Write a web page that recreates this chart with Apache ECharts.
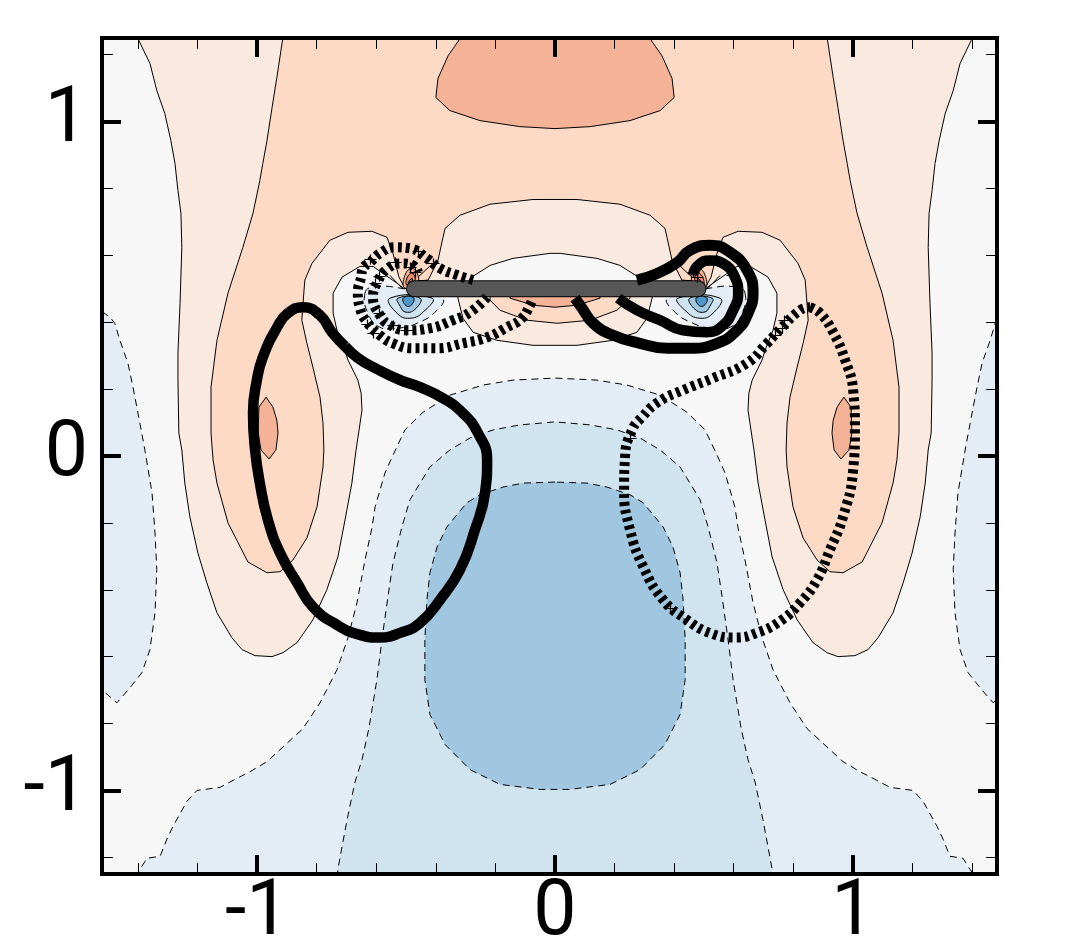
<!DOCTYPE html>
<html>
<head>
<meta charset="utf-8">
<style>html,body{margin:0;padding:0;background:#fff}#c{width:1071px;height:952px}</style>
<script src="https://cdn.jsdelivr.net/npm/echarts@6/dist/echarts.min.js"></script>
</head>
<body>
<div id="c"></div>
<script>
// Axis ticks (data units)
const xMajor = [-1, 0, 1];
const yMajor = [-1, 0, 1];
const xMinor = [-1.4, -1.2, -0.8, -0.6, -0.4, -0.2, 0.2, 0.4, 0.6, 0.8, 1.2, 1.4];
const yMinor = [-1.2, -0.8, -0.6, -0.4, -0.2, 0.2, 0.4, 0.6, 0.8, 1.2];

// Contour levels (left half of each symmetric contour, in data units)
const peachHalf = [[-0.91,1.272],[-0.934,1.132],[-0.95,1.042],[-0.967,0.944],[-0.981,0.875],[-0.991,0.824],[-1.014,0.726],[-1.048,0.624],[-1.098,0.487],[-1.135,0.346],[-1.155,0.206],[-1.155,0.069],[-1.148,-0.012],[-1.135,-0.081],[-1.098,-0.2],[-1.031,-0.317],[-0.967,-0.349],[-0.923,-0.346],[-0.88,-0.311],[-0.833,-0.245],[-0.799,-0.152],[-0.779,-0.033],[-0.776,0.018],[-0.779,0.099],[-0.789,0.176],[-0.813,0.266],[-0.833,0.337],[-0.85,0.406],[-0.846,0.457],[-0.84,0.526],[-0.816,0.576],[-0.756,0.645],[-0.695,0.669],[-0.615,0.672],[-0.564,0.654],[-0.544,0.606],[-0.524,0.535],[-0.504,0.502],[-0.47,0.523],[-0.426,0.526],[-0.393,0.585],[-0.376,0.654],[-0.369,0.681],[-0.319,0.72],[-0.218,0.753],[-0.074,0.767],[0,0.767]];
const paleHalf = [[-1.404,1.287],[-1.397,1.242],[-1.36,1.174],[-1.337,1.093],[-1.31,1.024],[-1.29,0.944],[-1.276,0.875],[-1.266,0.794],[-1.256,0.726],[-1.253,0.624],[-1.259,0.457],[-1.266,0.308],[-1.266,0.227],[-1.263,0.069],[-1.253,0.018],[-1.243,-0.081],[-1.226,-0.182],[-1.199,-0.29],[-1.169,-0.379],[-1.135,-0.469],[-1.085,-0.543],[-1.051,-0.579],[-1.007,-0.597],[-0.95,-0.6],[-0.913,-0.588],[-0.866,-0.558],[-0.813,-0.49],[-0.766,-0.4],[-0.729,-0.302],[-0.705,-0.191],[-0.682,-0.081],[-0.668,0.018],[-0.648,0.137],[-0.651,0.188],[-0.662,0.227],[-0.695,0.287],[-0.709,0.325],[-0.732,0.376],[-0.745,0.427],[-0.745,0.487],[-0.715,0.535],[-0.655,0.567],[-0.611,0.567],[-0.578,0.546],[-0.531,0.517],[-0.504,0.499],[-0.295,0.502],[-0.285,0.532],[-0.218,0.57],[-0.141,0.591],[-0.017,0.606],[0,0.606]];
const lensPaleHalf = [[0,0.496],[-0.326,0.496],[-0.326,0.472],[-0.309,0.412],[-0.275,0.37],[-0.195,0.346],[-0.074,0.331],[0,0.331]];
const lensPeach = [[-0.218,0.496],[-0.218,0.466],[-0.185,0.436],[-0.094,0.406],[0.007,0.397],[0.118,0.406],[0.208,0.436],[0.252,0.472],[0.252,0.496]];
const lensOrangeHalf = [[0,0.496],[-0.151,0.496],[-0.151,0.472],[-0.074,0.451],[0,0.445]];
const topPatchHalf = [[-0.319,1.287],[-0.319,1.248],[-0.359,1.197],[-0.393,1.129],[-0.4,1.072],[-0.353,1.033],[-0.252,1.003],[-0.118,0.985],[0,0.979]];
const sidePatch = [[-0.97,0.176],[-0.994,0.146],[-0.997,0.069],[-0.987,0.018],[-0.96,-0.009],[-0.937,0.018],[-0.93,0.069],[-0.934,0.107],[-0.947,0.146]];
const sideBlue = [[-1.561,0.43],[-1.518,0.43],[-1.494,0.415],[-1.478,0.397],[-1.461,0.346],[-1.434,0.278],[-1.417,0.206],[-1.394,0.099],[-1.377,0.018],[-1.353,-0.11],[-1.343,-0.23],[-1.337,-0.34],[-1.343,-0.469],[-1.36,-0.579],[-1.387,-0.648],[-1.427,-0.693],[-1.471,-0.738],[-1.514,-0.705],[-1.561,-0.705]];
const blueOuterHalf = [[-1.41,-1.296],[-1.4,-1.245],[-1.37,-1.203],[-1.326,-1.197],[-1.303,-1.146],[-1.283,-1.108],[-1.236,-1.033],[-1.202,-1],[-1.125,-0.991],[-1.081,-0.97],[-1.024,-0.944],[-0.967,-0.914],[-0.846,-0.815],[-0.789,-0.738],[-0.732,-0.639],[-0.695,-0.543],[-0.665,-0.439],[-0.638,-0.311],[-0.614,-0.212],[-0.604,-0.152],[-0.571,-0.051],[-0.547,-0.003],[-0.504,0.078],[-0.443,0.131],[-0.353,0.182],[-0.242,0.212],[-0.141,0.227],[0,0.233]];
const blueMidHalf = [[-0.735,-1.296],[-0.729,-1.236],[-0.715,-1.168],[-0.698,-1.087],[-0.672,-0.976],[-0.648,-0.908],[-0.625,-0.815],[-0.598,-0.669],[-0.578,-0.529],[-0.561,-0.421],[-0.544,-0.32],[-0.514,-0.212],[-0.487,-0.131],[-0.453,-0.081],[-0.42,-0.033],[-0.353,0.018],[-0.285,0.054],[-0.208,0.078],[-0.118,0.093],[0,0.102]];
const blueDarkHalf = [[0,-0.078],[-0.107,-0.081],[-0.175,-0.093],[-0.252,-0.116],[-0.296,-0.14],[-0.363,-0.212],[-0.396,-0.272],[-0.42,-0.349],[-0.43,-0.43],[-0.437,-0.549],[-0.437,-0.669],[-0.42,-0.773],[-0.369,-0.863],[-0.285,-0.938],[-0.185,-0.982],[-0.05,-0.997],[0,-0.997]];
const tipBlue1 = [[-0.638,0.487],[-0.611,0.505],[-0.52,0.502],[-0.379,0.472],[-0.396,0.436],[-0.463,0.397],[-0.531,0.382],[-0.588,0.385],[-0.628,0.427]];
const tipBlue2 = [[-0.554,0.472],[-0.413,0.472],[-0.436,0.436],[-0.487,0.412],[-0.534,0.43]];
const tipBlue3 = [[-0.527,0.472],[-0.453,0.472],[-0.466,0.442],[-0.5,0.43],[-0.52,0.448]];
const tipBlue4 = [[-0.51,0.472],[-0.477,0.475],[-0.477,0.457],[-0.497,0.448]];
const tipRed1 = [[-0.504,0.54],[-0.48,0.561],[-0.46,0.54],[-0.463,0.52],[-0.504,0.502]];
const tipRed2 = [[-0.497,0.532],[-0.48,0.546],[-0.47,0.526],[-0.497,0.511]];
const tipRed3 = [[-0.494,0.52],[-0.48,0.532],[-0.477,0.52]];
const tipSpokes = [[[-0.514,0.502],[-0.554,0.54]],[[-0.487,0.556],[-0.48,0.579]],[[-0.46,0.535],[-0.41,0.576]]];

// Thick vortex curves
const solidLoop = [[-0.705,0.328],[-0.749,0.37],[-0.789,0.421],[-0.846,0.445],[-0.897,0.427],[-0.933,0.385],[-0.981,0.296],[-1.001,0.227],[-1.014,0.128],[-1.007,0.018],[-0.991,-0.081],[-0.964,-0.191],[-0.923,-0.29],[-0.866,-0.379],[-0.813,-0.451],[-0.732,-0.505],[-0.655,-0.535],[-0.588,-0.543],[-0.52,-0.529],[-0.453,-0.499],[-0.386,-0.43],[-0.319,-0.34],[-0.269,-0.221],[-0.235,-0.11],[-0.228,-0.012],[-0.259,0.069],[-0.309,0.128],[-0.376,0.173],[-0.453,0.206],[-0.52,0.227],[-0.604,0.263],[-0.662,0.293],[-0.705,0.328]];
const dashedLoop = [[0.856,0.445],[0.89,0.427],[0.934,0.37],[0.974,0.287],[1.001,0.197],[1.007,0.078],[1.001,-0.042],[0.967,-0.182],[0.923,-0.281],[0.88,-0.37],[0.823,-0.439],[0.762,-0.49],[0.678,-0.529],[0.604,-0.543],[0.52,-0.529],[0.443,-0.49],[0.363,-0.43],[0.296,-0.331],[0.252,-0.221],[0.232,-0.102],[0.235,-0.003],[0.259,0.078],[0.292,0.116],[0.346,0.161],[0.43,0.197],[0.531,0.233],[0.645,0.278],[0.712,0.337],[0.762,0.385],[0.823,0.436],[0.856,0.445]];
const dashedOuter = [[-0.275,0.526],[-0.329,0.541],[-0.386,0.561],[-0.43,0.591],[-0.487,0.621],[-0.537,0.624],[-0.588,0.606],[-0.621,0.579],[-0.645,0.561],[-0.651,0.535],[-0.662,0.49],[-0.655,0.442],[-0.631,0.4],[-0.588,0.361],[-0.544,0.337],[-0.477,0.322],[-0.396,0.322],[-0.309,0.337],[-0.228,0.355],[-0.161,0.385],[-0.111,0.412],[-0.084,0.451],[-0.074,0.472]];
const dashedInner = [[-0.228,0.475],[-0.285,0.43],[-0.343,0.406],[-0.42,0.382],[-0.497,0.376],[-0.554,0.391],[-0.588,0.421],[-0.611,0.475],[-0.598,0.517],[-0.561,0.561],[-0.514,0.576],[-0.477,0.57],[-0.46,0.549]];
const solidOuter = [[0.275,0.526],[0.343,0.546],[0.41,0.579],[0.453,0.615],[0.52,0.63],[0.588,0.609],[0.645,0.555],[0.665,0.487],[0.648,0.427],[0.611,0.376],[0.544,0.337],[0.453,0.322],[0.376,0.322],[0.285,0.337],[0.195,0.361],[0.128,0.397],[0.091,0.442],[0.067,0.472]];
const solidInner = [[0.212,0.472],[0.275,0.436],[0.353,0.406],[0.43,0.376],[0.51,0.37],[0.564,0.391],[0.598,0.436],[0.615,0.487],[0.604,0.535],[0.564,0.576],[0.52,0.585],[0.48,0.57],[0.463,0.541]];
const plate = [[-0.472,0.5],[0.48,0.5]];
const plusMarks = [[-0.621,0.588],[-0.591,0.538],[-0.605,0.517],[-0.537,0.58],[-0.591,0.427],[-0.631,0.394],[-0.611,0.367],[-0.544,0.391],[-0.5,0.376],[-0.705,0.328],[-0.749,0.37],[-0.789,0.415],[-0.41,0.576],[-0.46,0.612],[-0.47,0.549],[-0.487,0.564],[0.463,0.549],[0.477,0.534],[0.628,0.579],[0.594,0.54],[0.77,0.406],[0.762,0.382],[0.739,0.361],[0.252,0.054],[0.386,-0.454]];

const C = {pale:'#f9e9df', peach:'#fddac5', orange:'#f4b296', b1:'#e4edf5', b2:'#d0e4f0', b3:'#a0c7df', b4:'#4f97c9', r2:'#e98f72', r3:'#d6604d'};
const mirrorX = pts => pts.map(p => [-p[0], p[1]]);
const full = half => half.concat(mirrorX(half).reverse());

function poly(pts, fill, dashed, smooth) {
  return {
    type:'custom', silent:true, clip:true, coordinateSystem:'cartesian2d', z:2,
    data: pts, encode:{x:0, y:1},
    renderItem:(params, api) => params.dataIndex !== 0 ? null : {
      type:'polygon',
      shape:{points: pts.map(p => api.coord(p)), smooth: smooth || 0},
      style:{fill, stroke:'#000', lineWidth:1, lineDash: dashed ? [7,5] : null}
    }
  };
}
function line(pts, width, color, dash, cap, smooth, z) {
  return {
    type:'line', silent:true, data:pts, showSymbol:false, smooth: smooth === undefined ? 0.5 : smooth, z: z || 5,
    lineStyle:{width, color, type: dash || 'solid', cap: cap || 'butt', join:'round'}, clip:true
  };
}

const series = [
  poly(sideBlue, C.b1, true), poly(mirrorX(sideBlue), C.b1, true),
  poly(full(paleHalf), C.pale, false),
  poly(full(peachHalf), C.peach, false),
  poly(full(topPatchHalf), C.orange, false),
  poly(sidePatch, C.orange, false), poly(mirrorX(sidePatch), C.orange, false),
  poly(full(lensPaleHalf), C.pale, false),
  poly(lensPeach, C.peach, false),
  poly(full(lensOrangeHalf), C.orange, false),
  poly(full(blueOuterHalf), C.b1, true),
  poly(full(blueMidHalf), C.b2, true),
  poly(full(blueDarkHalf), C.b3, true)
];
[tipBlue1, mirrorX(tipBlue1)].forEach(p => series.push(poly(p, C.b1, true, 0.5)));
[tipBlue2, mirrorX(tipBlue2)].forEach(p => series.push(poly(p, C.b2, false, 0.5)));
[tipBlue3, mirrorX(tipBlue3)].forEach(p => series.push(poly(p, C.b3, false, 0.5)));
[tipBlue4, mirrorX(tipBlue4)].forEach(p => series.push(poly(p, C.b4, false, 0.5)));
[tipRed1, mirrorX(tipRed1)].forEach(p => series.push(poly(p, C.orange, false, 0.5)));
[tipRed2, mirrorX(tipRed2)].forEach(p => series.push(poly(p, C.r2, false, 0.5)));
[tipRed3, mirrorX(tipRed3)].forEach(p => series.push(poly(p, C.r3, false)));
tipSpokes.forEach(s => { series.push(line(s, 1, '#000', 'solid', 'butt', 0, 3)); series.push(line(mirrorX(s), 1, '#000', 'solid', 'butt', 0, 3)); });

series.push(line(plate, 17, '#000', 'solid', 'round', 0, 4));
series.push(line(plate, 15, '#575757', 'solid', 'round', 0, 4));

series.push(line(solidLoop, 10.5, '#000'));
series.push(line(dashedLoop, 10, '#000', [4,4]));
series.push(line(dashedOuter, 10, '#000', [4,4]));
series.push(line(dashedInner, 10, '#000', [4,4]));
series.push(line(solidOuter, 11, '#000'));
series.push(line(solidInner, 10.5, '#000'));
series.push({
  type:'custom', silent:true, clip:true, coordinateSystem:'cartesian2d', z:6,
  data: plusMarks, encode:{x:0, y:1},
  renderItem:(params, api) => {
    const c = api.coord([api.value(0), api.value(1)]);
    const cx = Math.round(c[0]) + 0.5, cy = Math.round(c[1]) + 0.5;
    return {type:'path', shape:{
      pathData:'M' + (cx-6) + ' ' + cy + 'L' + (cx+6) + ' ' + cy + 'M' + cx + ' ' + (cy-5) + 'L' + cx + ' ' + (cy+5),
      x:cx-6, y:cy-5, width:12, height:10
    }, style:{fill:null, stroke:'#000', lineWidth:1.2}};
  }
});

const axisLine = {show:true, onZero:false, lineStyle:{color:'#000', width:4, cap:'square'}};
function xAxis(position, ticks, len, w, labels) {
  return {
    type:'value', min:-1.521, max:1.484, position, z:10, silent:true,
    splitLine:{show:false}, axisLine,
    axisTick:{show:true, inside:true, customValues:ticks, length:len, lineStyle:{color:'#000', width:w}},
    axisLabel: labels ? {show:true, customValues:ticks, color:'#000', fontFamily:'Roboto', fontSize:77, margin:2, hideOverlap:false, formatter:v => String(v)} : {show:false}
  };
}
function yAxis(position, ticks, len, w, labels) {
  return {
    type:'value', min:-1.25, max:1.25, position, z:10, silent:true,
    splitLine:{show:false}, axisLine,
    axisTick:{show:true, inside:true, customValues:ticks, length:len, lineStyle:{color:'#000', width:w}},
    axisLabel: labels ? {show:true, customValues:ticks, color:'#000', fontFamily:'Roboto', fontSize:77, margin:14, hideOverlap:false, formatter:v => String(v)} : {show:false}
  };
}

const chart = echarts.init(document.getElementById('c'), null, {renderer:'canvas'});
chart.setOption({
  animation:false,
  backgroundColor:'#fff',
  grid:{left:102, right:74, top:38, bottom:78, containLabel:false, outerBoundsMode:'none', show:true, backgroundColor:'#f7f7f7', borderWidth:0},
  xAxis:[xAxis('bottom', xMajor, 19, 4, true), xAxis('top', xMajor, 19, 4), xAxis('bottom', xMinor, 11, 1), xAxis('top', xMinor, 11, 1)],
  yAxis:[yAxis('left', yMajor, 19, 4, true), yAxis('right', yMajor, 19, 4), yAxis('left', yMinor, 11, 1), yAxis('right', yMinor, 11, 1)],
  series
});
</script>
</body>
</html>
